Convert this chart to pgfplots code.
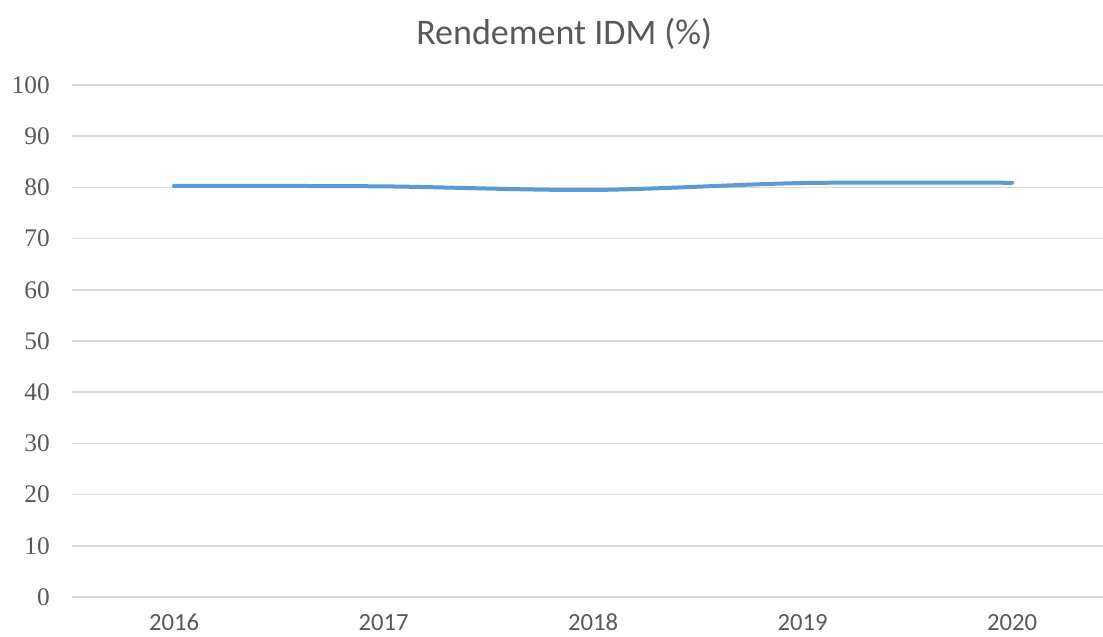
\documentclass[border=0pt]{standalone}
\usepackage{pgfplots}
\pgfplotsset{compat=1.18}
\usepackage{fontspec}
\setmainfont{Carlito}
\newfontfamily\tickserif{Liberation Serif}
\definecolor{lineblue}{HTML}{5B9BD5}
\definecolor{gridgray}{HTML}{D9D9D9}
\definecolor{txtgray}{HTML}{595959}
\begin{document}
\begin{tikzpicture}[x=1pt,y=1pt]
\useasboundingbox (-54pt,-29.25pt) rectangle (773.25pt,447.75pt);
\begin{axis}[
  at={(0pt,0pt)}, anchor=south west,
  scale only axis,
  width=773.25pt, height=384pt,
  xmin=-0.487, xmax=4.434,
  ymin=0, ymax=100,
  ytick={0,10,...,100},
  xtick={0,1,2,3,4},
  xticklabels={2016,2017,2018,2019,2020},
  /pgf/number format/assume math mode=true,
  major tick length=0pt,
  axis line style={draw=none},
  ymajorgrids,
  grid style={gridgray, line width=1.1pt},
  xticklabel style={anchor=base, inner sep=0pt, yshift=-24.8pt, font=\fontsize{18.5}{20}\selectfont, text=txtgray},
  yticklabel style={anchor=east, inner sep=0pt, xshift=-16.5pt, font=\fontsize{19}{21}\tickserif, text=txtgray},
  clip=false,
]
\addplot[lineblue, line width=3pt, smooth, line cap=round] coordinates {
  (0,80.3) (1,80.2) (2,79.5) (3,80.85) (4,80.9)
};
\node[anchor=base, inner sep=0pt, text=txtgray, font=\fontsize{27}{30}\selectfont] at (axis cs:1.862,100) [yshift=30.5pt] {Rendement IDM (\%)};
\end{axis}
\end{tikzpicture}
\end{document}
